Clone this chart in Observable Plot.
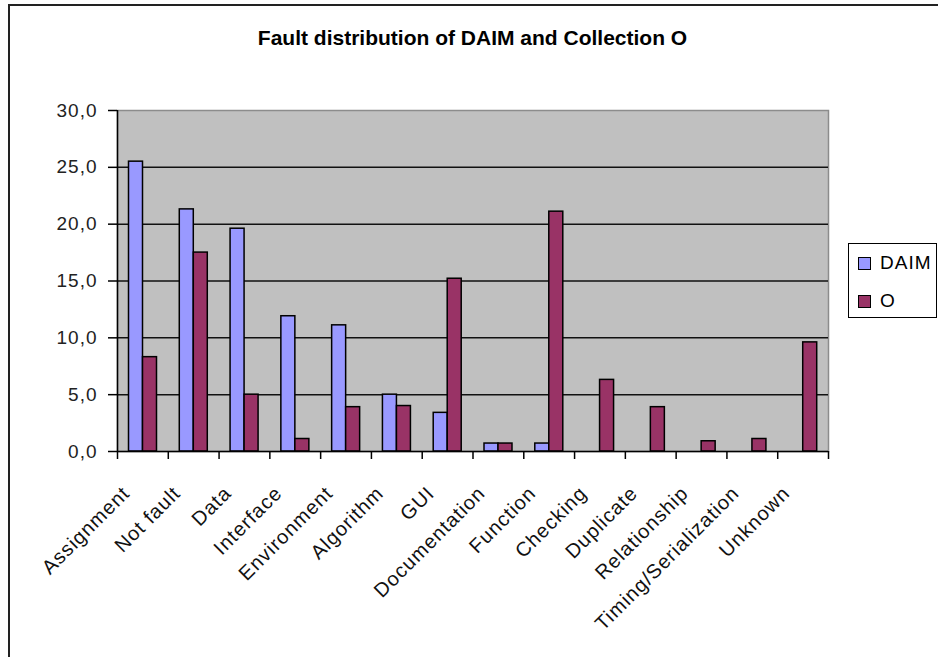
<!DOCTYPE html>
<html>
<head>
<meta charset="utf-8">
<script src="https://cdn.jsdelivr.net/npm/d3@7"></script>
<script src="https://cdn.jsdelivr.net/npm/@observablehq/plot@0.6"></script>
<style>
  html, body { margin: 0; padding: 0; background: #fff; }
  #chart { position: relative; width: 938px; height: 657px; overflow: hidden;
           font-family: "Liberation Sans", Arial, sans-serif; color: #000; }
  #border { position: absolute; left: 8px; top: 4px; width: 980px; height: 720px;
            border-left: 2px solid #222; border-top: 2px solid #222; }
  #plot { position: absolute; left: 0; top: 0; }
  #plot svg text { letter-spacing: 1px; }
  #title { position: absolute; left: 117px; width: 711px; top: 27px; text-align: center;
           font-weight: bold; font-size: 21px; line-height: 1; white-space: nowrap; }
  #legend { position: absolute; left: 848px; top: 243px; width: 87px; height: 73px;
            border: 1.5px solid #000; background: #fff; }
  .item { position: absolute; left: 0; }
  .swatch { position: absolute; left: 9px; width: 11px; height: 11px; border: 1px solid #000; }
  .label { position: absolute; left: 31px; font-size: 19px; line-height: 1; letter-spacing: 1px; white-space: nowrap; }
</style>
</head>
<body>
<div id="chart">
  <div id="border"></div>
  <div id="plot"></div>
  <div id="title">Fault distribution of DAIM and Collection O</div>
  <div id="legend"></div>
</div>
<script>
// Fault categories, in the order they appear along the x axis
const categories = [
  "Assignment", "Not fault", "Data", "Interface", "Environment", "Algorithm", "GUI",
  "Documentation", "Function", "Checking", "Duplicate", "Relationship",
  "Timing/Serialization", "Unknown"
];
// Share of faults (%) per category
const daimValues = [25.5, 21.3, 19.6, 11.9, 11.1, 5.0, 3.4, 0.7, 0.7, 0, 0, 0, 0, 0];
const oValues    = [8.3, 17.5, 5.0, 1.1, 3.9, 4.0, 15.2, 0.7, 21.1, 6.3, 3.9, 0.9, 1.1, 9.6];
const seriesNames = ["DAIM", "O"];
const seriesColors = ["#9999ff", "#993366"];
const yTicks = [0, 5, 10, 15, 20, 25, 30];

const rows = categories.map((c, i) => ({category: c, daim: daimValues[i], o: oValues[i]}));

const W = 938, H = 657;
const mL = 117, mR = 110, mT = 110, mB = 206;
const bw = (W - mL - mR) / categories.length; // width of one category band
const fmt = d => d.toFixed(1).replace(".", ",");

const chart = Plot.plot({
  width: W,
  height: H,
  marginLeft: mL,
  marginRight: mR,
  marginTop: mT,
  marginBottom: mB,
  style: {fontFamily: "'Liberation Sans', Arial, sans-serif", fontSize: "19px", color: "#000", background: "transparent"},
  x: {type: "band", domain: categories, padding: 0, round: false, axis: null},
  y: {domain: [0, 30], axis: null},
  marks: [
    // grey plot area
    Plot.frame({fill: "#c0c0c0", stroke: "#8c8c8c", strokeWidth: 1.5}),
    // horizontal gridlines
    Plot.ruleY(yTicks.filter(t => t > 0 && t < 30), {stroke: "#111", strokeWidth: 1.5}),
    // bars: DAIM on the left half of each group, O on the right
    Plot.barY(rows.filter(d => d.daim > 0), {
      x: "category", y: "daim", fill: seriesColors[0], stroke: "#000", strokeWidth: 1.5,
      insetLeft: 11.5, insetRight: bw - 25.5
    }),
    Plot.barY(rows.filter(d => d.o > 0), {
      x: "category", y: "o", fill: seriesColors[1], stroke: "#000", strokeWidth: 1.5,
      insetLeft: 25.5, insetRight: bw - 39.5
    }),
    // axis lines
    Plot.ruleY([0], {stroke: "#000", strokeWidth: 1.5}),
    Plot.ruleX([categories[0]], {dx: -bw / 2, y1: 0, y2: 30, stroke: "#000", strokeWidth: 1.5}),
    // category boundary ticks below the axis
    Plot.ruleX(categories, {x: d => d, dx: -bw / 2, y1: 0, y2: 0, insetBottom: -8, stroke: "#000", strokeWidth: 1.5}),
    Plot.ruleX([categories[categories.length - 1]], {dx: bw / 2, y1: 0, y2: 0, insetBottom: -8, stroke: "#000", strokeWidth: 1.5}),
    // y axis
    Plot.axisY(yTicks, {tickSize: 9, tickPadding: 11, tickFormat: fmt, fontSize: 19, stroke: "#000", strokeWidth: 1.5, fill: "#222"}),
    // rotated category labels
    Plot.text(categories, {
      x: d => d, frameAnchor: "bottom", dy: 43, dx: -12, rotate: -45,
      textAnchor: "end", lineAnchor: "bottom", fontSize: 20, fill: "#111"
    })
  ]
});
document.getElementById("plot").appendChild(chart);

// legend
const legend = document.getElementById("legend");
seriesNames.forEach((name, i) => {
  const item = document.createElement("div");
  item.className = "item";
  item.style.top = (i === 0 ? 0 : 38) + "px";
  const sw = document.createElement("div");
  sw.className = "swatch";
  sw.style.top = "13px";
  sw.style.background = seriesColors[i];
  const lab = document.createElement("div");
  lab.className = "label";
  lab.style.top = "9px";
  lab.textContent = name;
  item.appendChild(sw);
  item.appendChild(lab);
  legend.appendChild(item);
});
</script>
</body>
</html>
